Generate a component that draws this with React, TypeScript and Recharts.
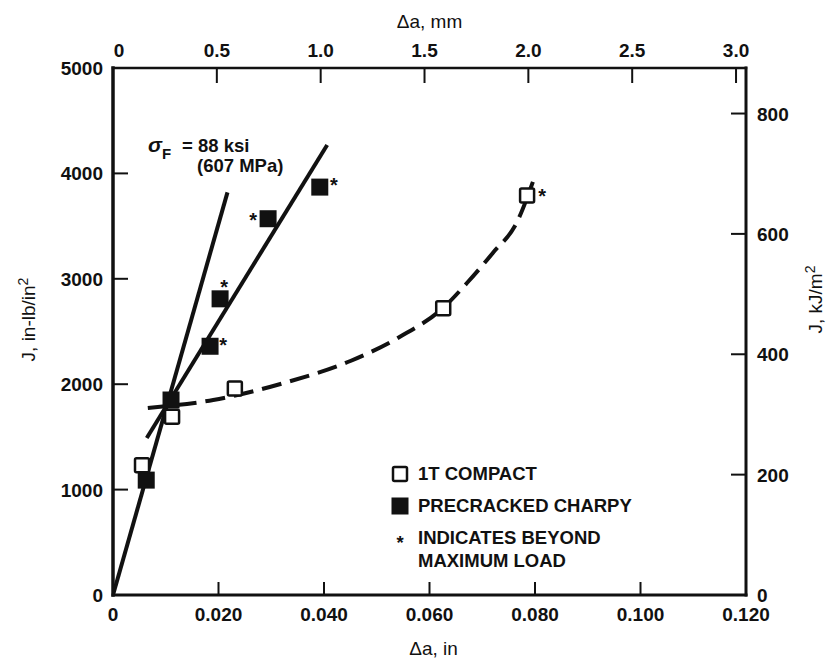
import {
  ComposedChart,
  Legend,
  Line,
  ReferenceDot,
  Scatter,
  XAxis,
  YAxis,
} from "recharts";

const FONT = "'Liberation Sans', Arial, Helvetica, sans-serif";

// Δa in inches, J in in-lb/in²
const COMPACT_DA = [0.0055, 0.0112, 0.0231, 0.0626, 0.0785];
const COMPACT_J = [1230, 1690, 1960, 2720, 3790];
const COMPACT_BEYOND = [false, false, false, false, true];

const CHARPY_DA = [0.0063, 0.011, 0.0184, 0.0203, 0.0294, 0.0392];
const CHARPY_J = [1090, 1850, 2360, 2810, 3570, 3870];
const CHARPY_BEYOND = [false, false, true, true, true, true];

// blunting line, J = 2 σF Δa
const BLUNT_DA = [0, 0.0217];
const BLUNT_J = [0, 3820];

const CHARPY_FIT_DA = [0.0064, 0.0406];
const CHARPY_FIT_J = [1490, 4270];

const COMPACT_FIT_DA = [0.0066, 0.019, 0.033, 0.045, 0.0544, 0.0625, 0.0671, 0.072, 0.0766, 0.0796];
const COMPACT_FIT_J = [1775, 1850, 2020, 2220, 2450, 2720, 2960, 3245, 3540, 3920];

const IN_TICKS = [0, 0.02, 0.04, 0.06, 0.08, 0.1, 0.12];
const IN_LABELS = ["0", "0.020", "0.040", "0.060", "0.080", "0.100", "0.120"];
const MM_TICKS = [0, 0.5, 1, 1.5, 2, 2.5, 3];
const MM_LABELS = ["0", "0.5", "1.0", "1.5", "2.0", "2.5", "3.0"];
const J_TICKS = [0, 1000, 2000, 3000, 4000, 5000];
const KJ_TICKS = [0, 200, 400, 600, 800];

const DA_MAX = 0.12;
const J_MAX = 5000;
const IN_TO_MM = 25.4;
const JIN_TO_KJ = 0.17513;

const zip = (xs: number[], ys: number[], flags?: boolean[]) =>
  xs.map((da, i) => ({ da, mm: da * IN_TO_MM, j: ys[i], beyond: flags ? flags[i] : false, i }));

const compactRows = zip(COMPACT_DA, COMPACT_J, COMPACT_BEYOND);
const charpyRows = zip(CHARPY_DA, CHARPY_J, CHARPY_BEYOND);
const bluntRows = zip(BLUNT_DA, BLUNT_J);
const charpyFitRows = zip(CHARPY_FIT_DA, CHARPY_FIT_J);
const compactFitRows = zip(COMPACT_FIT_DA, COMPACT_FIT_J);

const tickText = { fontFamily: FONT, fontSize: 19, fontWeight: 700, fill: "#111" };
const titleText = { fontFamily: FONT, fontSize: 19, fill: "#111" };

function BottomTick({ x, y, payload }: any) {
  const i = IN_TICKS.indexOf(payload.value);
  return (
    <g>
      {i > 0 && i < IN_TICKS.length - 1 && (
        <line x1={x} y1={y} x2={x} y2={y - 13} stroke="#111" strokeWidth={2} />
      )}
      <text x={x} y={y + 26} textAnchor="middle" {...tickText}>
        {IN_LABELS[i]}
      </text>
    </g>
  );
}

function TopTick({ x, y, payload }: any) {
  const i = MM_TICKS.indexOf(payload.value);
  return (
    <g>
      {i > 0 && <line x1={x} y1={y} x2={x} y2={y + 15} stroke="#111" strokeWidth={2} />}
      <text x={i === 0 ? x + 6 : x} y={y - 11} textAnchor="middle" {...tickText}>
        {MM_LABELS[i]}
      </text>
    </g>
  );
}

function LeftTick({ x, y, payload }: any) {
  const v = payload.value;
  return (
    <g>
      {v > 0 && v < J_MAX && <line x1={x} y1={y} x2={x + 15} y2={y} stroke="#111" strokeWidth={2} />}
      <text x={x - 10} y={y + 7} textAnchor="end" {...tickText}>
        {v}
      </text>
    </g>
  );
}

function RightTick({ x, y, payload }: any) {
  const v = payload.value;
  return (
    <g>
      {v > 0 && <line x1={x} y1={y} x2={x - 15} y2={y} stroke="#111" strokeWidth={2} />}
      <text x={x + 11} y={y + 7} textAnchor="start" {...tickText}>
        {v}
      </text>
    </g>
  );
}

// where the asterisk sits next to each marker (index -> [dx, dy])
const CHARPY_STAR: Record<number, [number, number]> = {
  2: [13, 6],
  3: [4, -5],
  4: [-15, 8],
  5: [14, 5],
};
const COMPACT_STAR: Record<number, [number, number]> = { 4: [15, 7] };

const starText = { fontFamily: FONT, fontSize: 20, fontWeight: 700, fill: "#111" };

function FilledSquare(props: any) {
  const { cx, cy, payload } = props;
  const s = CHARPY_STAR[payload.i];
  return (
    <g>
      <rect x={cx - 8.5} y={cy - 8.5} width={17} height={17} fill="#111" />
      {payload.beyond && s && (
        <text x={cx + s[0]} y={cy + s[1]} textAnchor="middle" {...starText}>
          *
        </text>
      )}
    </g>
  );
}

function OpenSquare(props: any) {
  const { cx, cy, payload } = props;
  const s = COMPACT_STAR[payload.i];
  return (
    <g>
      <rect x={cx - 7} y={cy - 7} width={14} height={14} rx={1.5} fill="#fff" stroke="#111" strokeWidth={2.5} />
      {payload.beyond && s && (
        <text x={cx + s[0]} y={cy + s[1]} textAnchor="middle" {...starText}>
          *
        </text>
      )}
    </g>
  );
}

function LegendBox() {
  const t = { fontFamily: FONT, fontSize: 18.5, fontWeight: 700, fill: "#111" };
  return (
    <svg width={330} height={115}>
      <rect x={5} y={7} width={14} height={14} rx={1.5} fill="#fff" stroke="#111" strokeWidth={2.5} />
      <text x={30} y={20} {...t}>1T COMPACT</text>
      <rect x={3.5} y={37.5} width={17} height={17} fill="#111" />
      <text x={30} y={52} {...t}>PRECRACKED CHARPY</text>
      <text x={12} y={89} textAnchor="middle" {...t}>*</text>
      <text x={30} y={84} {...t}>INDICATES BEYOND</text>
      <text x={30} y={107} {...t}>MAXIMUM LOAD</text>
    </svg>
  );
}

function StressNote({ viewBox }: any) {
  const x = viewBox.x;
  const y = viewBox.y;
  const t = { fontFamily: FONT, fontSize: 18.5, fontWeight: 700, fill: "#111" };
  return (
    <g>
      <text x={x} y={y} {...t} fontStyle="italic" fontSize={21}>σ</text>
      <text x={x + 14} y={y + 7} {...t} fontSize={15}>F</text>
      <text x={x + 34} y={y} {...t}>= 88 ksi</text>
      <text x={x + 49} y={y + 20} {...t}>(607 MPa)</text>
    </g>
  );
}

export default function App() {
  return (
    <div style={{ position: "absolute", left: 0, top: 0, background: "#fff" }}>
      <ComposedChart
        width={831}
        height={666}
        margin={{ top: 20, right: 20, bottom: 15, left: 15 }}
      >
        <XAxis
          dataKey="da"
          type="number"
          domain={[0, DA_MAX]}
          ticks={IN_TICKS}
          interval={0}
          height={56}
          tickSize={0}
          tickMargin={0}
          tick={<BottomTick />}
          axisLine={{ stroke: "#111", strokeWidth: 3, strokeLinecap: "square" }}
          label={({ viewBox }: any) => (
            <text x={viewBox.x + viewBox.width / 2 + 4} y={viewBox.y + 60} textAnchor="middle" {...titleText}>
              Δa, in
            </text>
          )}
        />
        <XAxis
          xAxisId="mm"
          dataKey="mm"
          orientation="top"
          type="number"
          domain={[0, DA_MAX * IN_TO_MM]}
          allowDataOverflow
          ticks={MM_TICKS}
          interval={0}
          height={48}
          tickSize={0}
          tickMargin={0}
          tick={<TopTick />}
          axisLine={{ stroke: "#111", strokeWidth: 2.5, strokeLinecap: "square" }}
          label={({ viewBox }: any) => (
            <text x={viewBox.x + viewBox.width / 2} y={viewBox.y + 8} textAnchor="middle" {...titleText}>
              Δa, mm
            </text>
          )}
        />
        <YAxis
          dataKey="j"
          type="number"
          domain={[0, J_MAX]}
          ticks={J_TICKS}
          interval={0}
          width={98}
          tickSize={0}
          tickMargin={0}
          tick={<LeftTick />}
          axisLine={{ stroke: "#111", strokeWidth: 3.5, strokeLinecap: "square" }}
          label={({ viewBox }: any) => {
            const cx = viewBox.x + 20;
            const cy = viewBox.y + viewBox.height / 2 - 12;
            return (
              <text x={cx} y={cy} transform={`rotate(-90 ${cx} ${cy})`} textAnchor="middle" {...titleText}>
                J, in-lb/in
                <tspan dy={-7} fontSize={14}>2</tspan>
              </text>
            );
          }}
        />
        <YAxis
          yAxisId="kj"
          orientation="right"
          type="number"
          domain={[0, J_MAX * JIN_TO_KJ]}
          allowDataOverflow
          ticks={KJ_TICKS}
          interval={0}
          width={65}
          tickSize={0}
          tickMargin={0}
          tick={<RightTick />}
          axisLine={{ stroke: "#111", strokeWidth: 3, strokeLinecap: "square" }}
          label={({ viewBox }: any) => {
            const cx = viewBox.x + 76;
            const cy = viewBox.y + viewBox.height / 2 - 32;
            return (
              <text x={cx} y={cy} transform={`rotate(-90 ${cx} ${cy})`} textAnchor="middle" {...titleText}>
                J, kJ/m
                <tspan dy={-7} fontSize={14}>2</tspan>
              </text>
            );
          }}
        />

        {/* blunting line drawn against the mm scale (same span as the inch scale) */}
        <Line
          xAxisId="mm"
          data={bluntRows}
          dataKey="j"
          type="linear"
          stroke="#111"
          strokeWidth={4}
          dot={false}
          activeDot={false}
          isAnimationActive={false}
        />
        <Line
          data={charpyFitRows}
          dataKey="j"
          type="linear"
          stroke="#111"
          strokeWidth={4}
          dot={false}
          activeDot={false}
          isAnimationActive={false}
        />
        <Line
          data={compactFitRows}
          dataKey="j"
          type="monotone"
          stroke="#111"
          strokeWidth={4}
          strokeDasharray="20 9"
          dot={false}
          activeDot={false}
          isAnimationActive={false}
        />
        <Scatter data={charpyRows} dataKey="j" shape={<FilledSquare />} isAnimationActive={false} />
        <Scatter data={compactRows} dataKey="j" shape={<OpenSquare />} isAnimationActive={false} />

        <ReferenceDot
          x={0.00664}
          y={4203}
          r={0}
          fill="none"
          stroke="none"
          label={<StressNote />}
        />

        <Legend
          layout="vertical"
          align="center"
          verticalAlign="middle"
          content={() => <LegendBox />}
          wrapperStyle={{ left: 388, top: 460, width: 330 }}
        />
      </ComposedChart>
    </div>
  );
}
